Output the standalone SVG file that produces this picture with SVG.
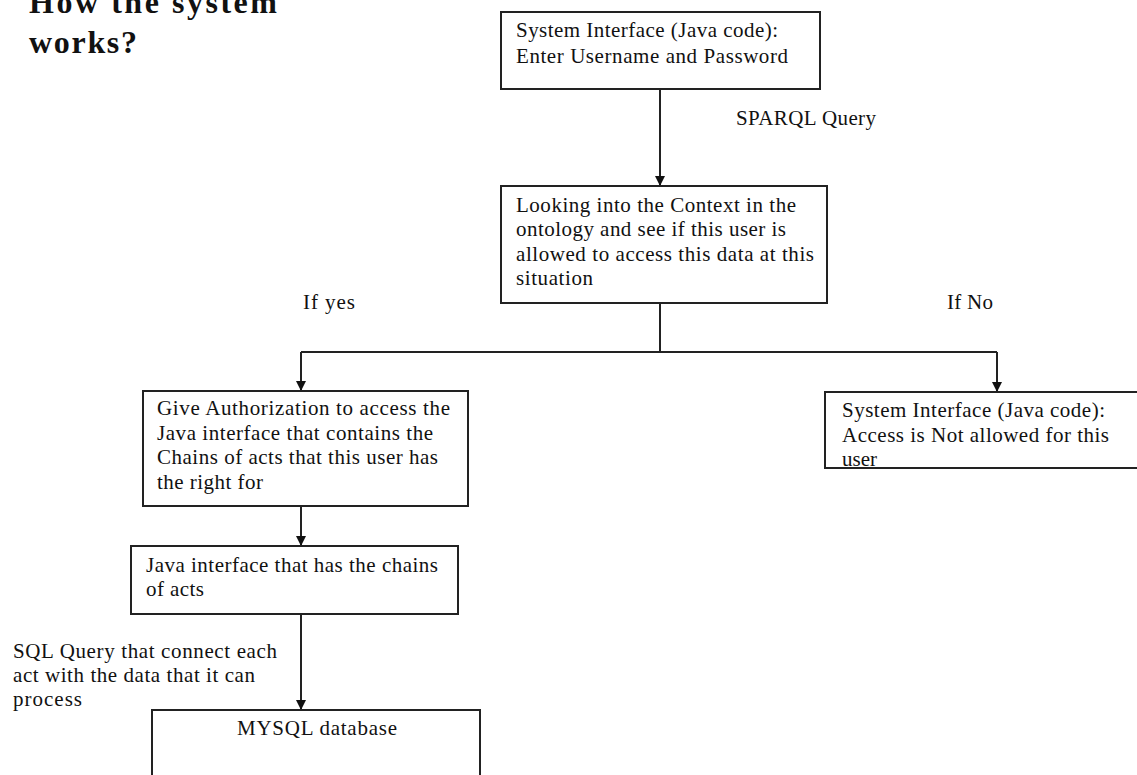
<svg xmlns="http://www.w3.org/2000/svg" width="1137" height="775" viewBox="0 0 1137 775">
  <style>
    .box { fill: #ffffff; stroke: #222222; stroke-width: 2; }
    .t { font-family: "Liberation Serif", "Times New Roman", serif; font-size: 21px; fill: #111111; }
    .title { font-family: "Liberation Serif", "Times New Roman", serif; font-size: 32px; font-weight: bold; fill: #111111; }
    .edge { fill: none; stroke: #222222; stroke-width: 2; }
  </style>
  <defs>
    <marker id="arrow" markerUnits="userSpaceOnUse" markerWidth="10" markerHeight="12" refX="10" refY="5" orient="auto">
      <path d="M0,0 L10,5 L0,10 z" fill="#111111"/>
    </marker>
  </defs>
  <rect width="1137" height="775" fill="#ffffff"/>

  <!-- heading -->
  <g id="heading">
    <text class="title" x="29" y="13" textLength="248" lengthAdjust="spacing">How the system</text>
    <text class="title" x="29" y="53" textLength="108" lengthAdjust="spacing">works?</text>
  </g>

  <!-- connectors -->
  <g id="connectors">
    <line class="edge" x1="660" y1="89" x2="660" y2="186" marker-end="url(#arrow)"/>
    <polyline class="edge" points="660,303 660,352"/>
    <polyline class="edge" points="301,352 997,352"/>
    <line class="edge" x1="301" y1="352" x2="301" y2="391" marker-end="url(#arrow)"/>
    <line class="edge" x1="997" y1="352" x2="997" y2="392" marker-end="url(#arrow)"/>
    <line class="edge" x1="301" y1="506" x2="301" y2="546" marker-end="url(#arrow)"/>
    <line class="edge" x1="301" y1="614" x2="301" y2="710" marker-end="url(#arrow)"/>
  </g>

  <!-- connector labels -->
  <g id="labels">
    <text class="t" x="736" y="125" textLength="140" lengthAdjust="spacing">SPARQL Query</text>
    <text class="t" x="303" y="309" textLength="52" lengthAdjust="spacing">If yes</text>
    <text class="t" x="947" y="309" textLength="46" lengthAdjust="spacing">If No</text>
    <text class="t" x="13" y="658" textLength="264" lengthAdjust="spacing">SQL Query that connect each</text>
    <text class="t" x="13" y="682" textLength="242" lengthAdjust="spacing">act with the data that it can</text>
    <text class="t" x="13" y="706" textLength="69" lengthAdjust="spacing">process</text>
  </g>

  <g id="login">
    <rect class="box" x="501" y="12" width="319" height="77"/>
    <text class="t" x="516" y="37" textLength="262" lengthAdjust="spacing">System Interface (Java code):</text>
    <text class="t" x="516" y="63" textLength="272" lengthAdjust="spacing">Enter Username and Password</text>
  </g>

  <g id="context-check">
    <rect class="box" x="501" y="186" width="326" height="117"/>
    <text class="t" x="516" y="212" textLength="280" lengthAdjust="spacing">Looking into the Context in the</text>
    <text class="t" x="516" y="236" textLength="270" lengthAdjust="spacing">ontology and see if this user is</text>
    <text class="t" x="516" y="261" textLength="298" lengthAdjust="spacing">allowed to access this data at this</text>
    <text class="t" x="516" y="285" textLength="77" lengthAdjust="spacing">situation</text>
  </g>

  <g id="authorize">
    <rect class="box" x="143" y="391" width="325" height="115"/>
    <text class="t" x="157" y="415" textLength="293" lengthAdjust="spacing">Give Authorization to access the</text>
    <text class="t" x="157" y="440" textLength="276" lengthAdjust="spacing">Java interface that contains the</text>
    <text class="t" x="157" y="464" textLength="281" lengthAdjust="spacing">Chains of acts that this user has</text>
    <text class="t" x="157" y="489" textLength="106" lengthAdjust="spacing">the right for</text>
  </g>

  <g id="denied">
    <rect class="box" x="825" y="392" width="330" height="76"/>
    <text class="t" x="842" y="417" textLength="263" lengthAdjust="spacing">System Interface (Java code):</text>
    <text class="t" x="842" y="442" textLength="267" lengthAdjust="spacing">Access is Not allowed for this</text>
    <text class="t" x="842" y="466" textLength="35" lengthAdjust="spacing">user</text>
  </g>

  <g id="chains">
    <rect class="box" x="131" y="546" width="327" height="68"/>
    <text class="t" x="146" y="572" textLength="292" lengthAdjust="spacing">Java interface that has the chains</text>
    <text class="t" x="146" y="596" textLength="58" lengthAdjust="spacing">of acts</text>
  </g>

  <g id="database">
    <rect class="box" x="152" y="710" width="328" height="80"/>
    <text class="t" x="237" y="735" textLength="160" lengthAdjust="spacing">MYSQL database</text>
  </g>
</svg>
